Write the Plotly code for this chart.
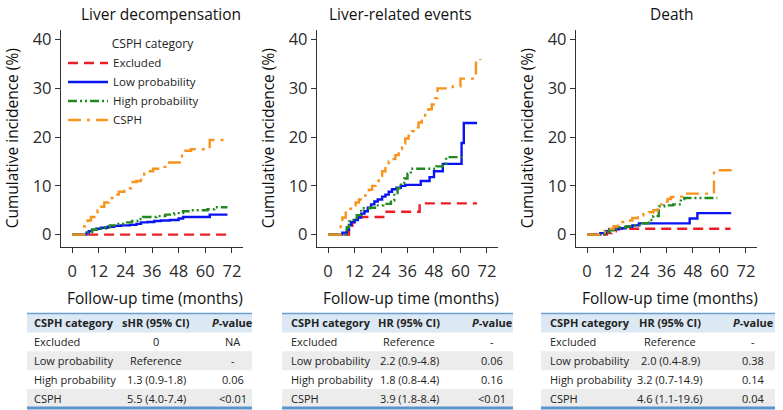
import plotly.graph_objects as go

W, H = 783, 410
FONT = "Open Sans"
TXT = "#2b2b2b"

categories = ["Excluded", "Low probability", "High probability", "CSPH"]
colors = ["#ee1c25", "#0a14f0", "#21891f", "#f7941d"]
dashes = ["10px,6px", "solid", "9px,3px,2px,3px,2px,3px", "13px,6px,3px,6px"]

panel_titles = ["Liver decompensation", "Liver-related events", "Death"]
month_ticks = [0, 12, 24, 36, 48, 60, 72]
pct_ticks = [0, 10, 20, 30, 40]

# Liver decompensation (months, cumulative incidence %)
ld_excl_t = [0, 70]
ld_excl_v = [0, 0]
ld_low_t = [0, 5.5, 6.5, 7.5, 9, 11, 13, 16, 19, 22, 26, 29, 31, 34, 37, 40, 44, 48, 50, 62, 70]
ld_low_v = [0, 0, 0.4, 0.7, 1.0, 1.2, 1.4, 1.6, 1.8, 1.9, 2.0, 2.2, 2.5, 2.6, 2.8, 2.9, 3.0, 3.3, 3.6, 4.1, 4.1]
ld_high_t = [0, 5.5, 7, 9, 11, 15, 17, 20, 23, 27, 30, 32, 38, 42, 46, 50, 53, 61, 64, 70]
ld_high_v = [0, 0, 0.5, 1.0, 1.2, 1.5, 1.9, 2.2, 2.5, 2.8, 3.2, 3.6, 3.8, 4.1, 4.4, 4.8, 5.0, 5.2, 5.6, 5.6]
ld_csph_t = [0, 5.5, 7, 8.5, 10, 11.5, 13, 14.5, 16.5, 19.5, 21, 23.5, 26.5, 29, 31, 32.5, 34.5, 36.5,
             39.5, 42, 48.5, 49.5, 51, 53.5, 62, 70]
ld_csph_v = [0, 1.7, 2.9, 3.6, 4.3, 5.0, 5.7, 6.6, 7.5, 8.2, 8.8, 9.5, 10.8, 11.0, 11.6, 12.5, 13.0, 13.5,
             13.9, 14.8, 15.6, 16.5, 17.2, 17.5, 19.4, 19.4]

# Liver-related events
lre_excl_t = [0, 9.5, 11, 12, 26.5, 41.5, 67.5]
lre_excl_v = [0, 1.0, 2.5, 3.6, 4.7, 6.4, 6.4]
lre_low_t = [0, 6.5, 8.5, 9.5, 10.5, 12, 13.5, 15, 16.5, 18, 19.5, 21, 22.5, 24.5, 26, 27.5, 29, 31, 33, 35,
             42, 46, 48, 52, 60.5, 61.5, 67.5]
lre_low_v = [0, 0.4, 1.0, 2.0, 2.6, 3.0, 3.5, 4.3, 4.8, 5.5, 6.2, 6.8, 7.2, 7.8, 8.2, 8.8, 9.3, 9.6, 10.0, 10.2,
             11.0, 11.8, 13.0, 14.5, 18.8, 22.9, 22.9]
lre_high_t = [0, 8.5, 9.5, 11, 13, 15, 19, 22, 25, 28.5, 30, 31.5, 33, 34.5, 36, 37.5, 46, 49, 52, 53.5, 62]
lre_high_v = [0, 1.5, 2.7, 3.0, 4.0, 5.4, 5.5, 6.0, 6.3, 7.0, 8.5, 9.5, 10.5, 11.5, 12.5, 13.5, 13.5, 14.0,
              14.6, 15.9, 15.9]
lre_csph_t = [0, 5.7, 6.5, 8, 9.5, 11, 12.5, 14, 15.5, 17, 18.5, 20, 21.5, 23, 24.5, 26, 27.5, 29, 30.5, 32,
              33.5, 35, 36.5, 38, 39.5, 41, 42.5, 44, 45.5, 47, 48.5, 49.6, 53, 56.5, 60, 67, 69]
lre_csph_v = [0, 2.0, 3.5, 4.5, 5.3, 6.0, 6.6, 7.2, 8.0, 8.6, 9.2, 10.0, 11.0, 12.0, 13.0, 14.0, 15.0, 15.5,
              16.3, 17.5, 18.7, 19.7, 20.3, 21.2, 22.0, 23.0, 24.0, 24.8, 25.7, 26.7, 28.0, 30.0, 30.0, 30.4,
              32.0, 35.6, 36.0]

# Death
death_excl_t = [0, 9, 11, 13, 65]
death_excl_v = [0, 0.3, 0.7, 1.2, 1.2]
death_low_t = [0, 6, 8.5, 10, 14.5, 17.5, 20.5, 23.5, 46.5, 50, 65.3]
death_low_v = [0, 0.3, 0.7, 1.1, 1.3, 1.6, 1.9, 2.3, 3.3, 4.4, 4.4]
death_high_t = [0, 8, 10, 12, 15, 18, 21, 25, 28, 30, 32.5, 35, 39, 42.5, 44, 59]
death_high_v = [0, 0.5, 0.9, 1.2, 1.5, 1.7, 1.9, 2.3, 3.0, 3.8, 5.8, 6.0, 6.2, 7.3, 7.5, 7.5]
death_csph_t = [0, 6.5, 8, 10, 12, 14, 16, 18, 20.5, 23, 25.5, 28, 30, 32, 33.5, 35, 36.5, 38, 41, 44.5, 57.5, 67]
death_csph_v = [0, 0.4, 0.8, 1.2, 1.7, 2.2, 2.6, 2.9, 3.4, 3.9, 4.2, 4.6, 5.0, 5.6, 6.2, 6.8, 7.3, 7.7, 7.8,
                8.4, 13.2, 13.2]

# tables
hr_headers = ["sHR (95% CI)", "HR (95% CI)", "HR (95% CI)"]
ld_hr = ["0", "Reference", "1.3 (0.9-1.8)", "5.5 (4.0-7.4)"]
ld_p = ["NA", "-", "0.06", "&lt;0.01"]
lre_hr = ["Reference", "2.2 (0.9-4.8)", "1.8 (0.8-4.4)", "3.9 (1.8-8.4)"]
lre_p = ["-", "0.06", "0.16", "&lt;0.01"]
death_hr = ["Reference", "2.0 (0.4-8.9)", "3.2 (0.7-14.9)", "4.6 (1.1-19.6)"]
death_p = ["-", "0.38", "0.14", "0.04"]

curves = [
    [(ld_excl_t, ld_excl_v), (ld_low_t, ld_low_v), (ld_high_t, ld_high_v), (ld_csph_t, ld_csph_v)],
    [(lre_excl_t, lre_excl_v), (lre_low_t, lre_low_v), (lre_high_t, lre_high_v), (lre_csph_t, lre_csph_v)],
    [(death_excl_t, death_excl_v), (death_low_t, death_low_v), (death_high_t, death_high_v),
     (death_csph_t, death_csph_v)],
]
tables = [(ld_hr, ld_p), (lre_hr, lre_p), (death_hr, death_p)]

# layout in pixels
plot_x = [(61, 243), (317, 498), (576, 757)]
plot_top, plot_bottom = 28, 246
title_x = [161, 401, 672]
xtitle_x = [155, 411, 670]
# table: left edge, text left, col2 centre, col3 centre, right edge
table_x = [(27, 32, 156, 233, 252), (282, 289, 409, 492, 513), (541, 548, 670, 753, 775)]
row_top = [313, 332, 351, 370, 389, 408]


def px(x):
    return x / W


def py(y):
    return 1 - y / H


fig = go.Figure()
annotations = []
shapes = []

for i in range(3):
    xa = "x" if i == 0 else "x%d" % (i + 1)
    ya = "y" if i == 0 else "y%d" % (i + 1)
    for k, (t, v) in enumerate(curves[i]):
        fig.add_trace(go.Scatter(
            x=t, y=v, mode="lines", line_shape="hv", name=categories[k],
            legendgroup=categories[k], showlegend=(i == 0),
            line=dict(color=colors[k], width=2.4, dash=dashes[k]),
            xaxis=xa, yaxis=ya))

    axis_common = dict(showline=True, linecolor="#333", linewidth=1.3, ticks="outside", ticklen=5,
                       tickcolor="#333", tickwidth=1.3, showgrid=False, zeroline=False,
                       tickfont=dict(family=FONT, size=16.5, color=TXT))
    xkey = "xaxis" if i == 0 else "xaxis%d" % (i + 1)
    ykey = "yaxis" if i == 0 else "yaxis%d" % (i + 1)
    fig.layout[xkey] = dict(domain=[px(plot_x[i][0]), px(plot_x[i][1])], range=[-5, 77],
                            tickvals=month_ticks, anchor=ya, ticklabelstandoff=4, **axis_common)
    fig.layout[ykey] = dict(domain=[py(plot_bottom), py(plot_top)], range=[-2.5, 42],
                            tickvals=pct_ticks, anchor=xa, **axis_common)

    annotations.append(dict(text=panel_titles[i], x=px(title_x[i]), y=py(12), xref="paper", yref="paper",
                            showarrow=False, xanchor="center", yanchor="middle",
                            font=dict(family=FONT, size=15.5, color="#111")))
    annotations.append(dict(text="Follow-up time (months)", x=px(xtitle_x[i]), y=py(297), xref="paper",
                            yref="paper", showarrow=False, xanchor="center", yanchor="middle",
                            font=dict(family=FONT, size=15.5, color="#111")))
    annotations.append(dict(text="Cumulative incidence (%)", x=px(plot_x[i][0] - 49), y=py(137),
                            xref="paper", yref="paper", showarrow=False, textangle=-90,
                            xanchor="center", yanchor="middle",
                            font=dict(family=FONT, size=15.5, color="#111")))

    # table
    left, tleft, c2, c3, right = table_x[i]
    hr, pv = tables[i]
    shapes.append(dict(type="rect", xref="paper", yref="paper", x0=px(left), x1=px(right),
                       y0=py(row_top[1]), y1=py(row_top[0]), fillcolor="#dce8f4", line_width=0, layer="below"))
    for r in (2, 4):
        shapes.append(dict(type="rect", xref="paper", yref="paper", x0=px(left), x1=px(right),
                           y0=py(row_top[r + 1]), y1=py(row_top[r]), fillcolor="#ececec", line_width=0,
                           layer="below"))
    shapes.append(dict(type="line", xref="paper", yref="paper", x0=px(left), x1=px(right),
                       y0=py(row_top[0]), y1=py(row_top[0]), line=dict(color="#6a9fd3", width=1.5)))
    shapes.append(dict(type="line", xref="paper", yref="paper", x0=px(left), x1=px(right),
                       y0=py(row_top[5]), y1=py(row_top[5]), line=dict(color="#5b93cc", width=3)))

    header = ["<b>CSPH category</b>", "<b>%s</b>" % hr_headers[i], "<b><i>P</i>-value</b>"]
    rows = [header] + [[categories[r], hr[r], pv[r]] for r in range(4)]
    for r, row in enumerate(rows):
        yc = py((row_top[r] + row_top[r + 1]) / 2)
        for c, (xc, anchor) in enumerate([(tleft, "left"), (c2, "center"), (c3, "center")]):
            annotations.append(dict(text=row[c], x=px(xc), y=yc, xref="paper", yref="paper",
                                    showarrow=False, xanchor=anchor, yanchor="middle",
                                    font=dict(family=FONT, size=11, color="#222")))

fig.update_layout(
    width=W, height=H, margin=dict(l=0, r=0, t=0, b=0),
    paper_bgcolor="white", plot_bgcolor="white",
    font=dict(family=FONT, color=TXT),
    annotations=annotations, shapes=shapes,
    legend=dict(x=px(63), y=py(31), xanchor="left", yanchor="top", bgcolor="rgba(0,0,0,0)",
                font=dict(family=FONT, size=11.5, color="#222"), tracegroupgap=0, itemwidth=40,
                title=dict(text="\u00a0" * 15 + "CSPH category", font=dict(size=12))),
)

# the page's default body margin would push the figure off the window
fig.write_html("out.html", config={"displayModeBar": False},
               post_script="document.body.style.margin='0';")
